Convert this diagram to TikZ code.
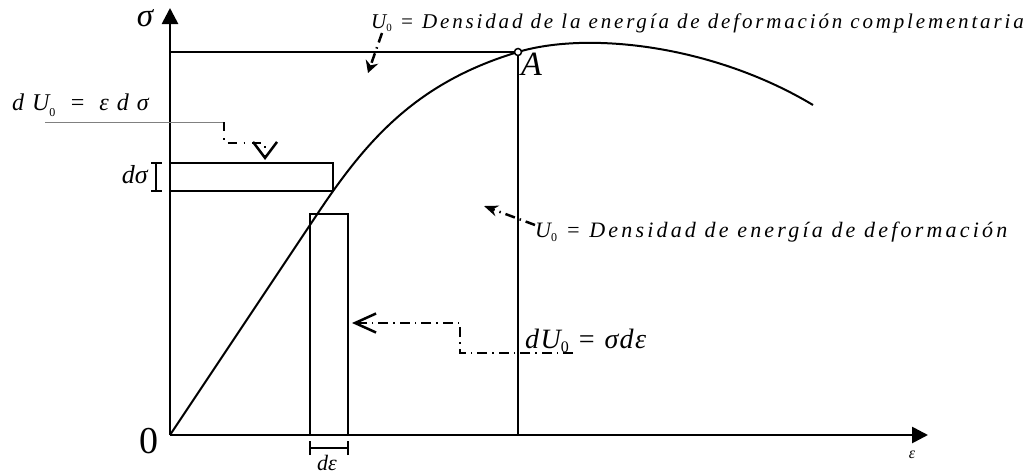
\documentclass[tikz,border=0pt]{standalone}
\usepackage{fontspec}
\setmainfont{Liberation Serif}
\newfontfamily\lsTop[LetterSpace=13.5]{Liberation Serif}
\newfontfamily\lsMid[LetterSpace=14.5]{Liberation Serif}
\newfontfamily\lsEqA[LetterSpace=33]{Liberation Serif}
\newfontfamily\lsEqB[LetterSpace=5]{Liberation Serif}
\usetikzlibrary{arrows.meta}
\newcommand{\subzero}[2]{\raisebox{-#2pt}{\fontsize{#1}{#1}\selectfont\upshape 0}}
\begin{document}
\begin{tikzpicture}[x=1pt,y=-1pt,
  axisline/.style={line width=2.7pt,-{Triangle[length=16pt,width=16pt]}},
  solidline/.style={line width=2pt},
  ddline/.style={line width=2.5pt,dash pattern=on 10pt off 5pt on 1.5pt off 5pt},
  lbl/.style={inner sep=0pt,anchor=base west},
  lblc/.style={inner sep=0pt,anchor=base}]
\useasboundingbox (0,0) rectangle (1023,474);
% coordinates
\coordinate (O) at (170,435);
\coordinate (Ytop) at (170,8);
\coordinate (Xend) at (928,435);
\coordinate (H0) at (170,52);
\coordinate (A) at (518,52);
\coordinate (Abot) at (518,435);
\coordinate (S1) at (170,163);
\coordinate (S2) at (333,191);
\coordinate (T1) at (310,214);
\coordinate (T2) at (348,435);
\coordinate (B1) at (156,163);
\coordinate (B2) at (156,191);
\coordinate (E1) at (310,448);
\coordinate (E2) at (348,448);
\coordinate (K1) at (318,213);
\coordinate (Cend) at (813,105);
% axes
\draw[axisline] (O) -- (Ytop);
\draw[axisline] (O) -- (Xend);
% lines to A
\draw[solidline] (H0) -- (A);
\draw[solidline] (A) -- (Abot);
% rectangles
\draw[solidline] (S1) rectangle (S2);
\draw[solidline] (T1) rectangle (T2);
% curve
\draw[solidline] (O) -- (K1) .. controls (368,138) and (418,82) .. (A)
  .. controls (588,31) and (713,45) .. (Cend);
% point A
\draw[line width=1.5pt,fill=white] (A) circle (3.5pt);
% brackets
\draw[solidline] (B1) -- (B2);
\draw[solidline] ([xshift=-5pt]B1) -- ([xshift=6pt]B1);
\draw[solidline] ([xshift=-5pt]B2) -- ([xshift=6pt]B2);
\draw[solidline] (E1) -- (E2);
\draw[solidline] ([yshift=-7pt]E1) -- ([yshift=7pt]E1);
\draw[solidline] ([yshift=-7pt]E2) -- ([yshift=7pt]E2);
% labels
\node[lblc,text height=15pt,text depth=1pt,font=\itshape\fontsize{33}{33}\selectfont] (sig) at (145,26) {σ};
\node[lblc,font=\fontsize{38}{38}\selectfont] (zero) at (149,453) {0};
\node[lblc,font=\itshape\fontsize{16}{16}\selectfont] (eps) at (912,458) {ε};
\node[lbl,font=\itshape\fontsize{34}{34}\selectfont] (Alab) at (521,75) {A};
\node[lblc,font=\itshape\fontsize{22}{22}\selectfont] (deps) at (327,470) {dε};
\node[inner sep=0pt,anchor=base east,font=\itshape\fontsize{26}{26}\selectfont] (dsig) at (148,183) {dσ};
\node[lbl,font=\lsTop\itshape\fontsize{21}{21}\selectfont] (topU) at (371,28) {U\subzero{11}{3} = Densidad de la energía de deformación complementaria};
\node[lbl,font=\lsMid\itshape\fontsize{22}{22}\selectfont] (midU) at (535,237) {U\subzero{12}{4} = Densidad de energía de deformación};
\node[lbl,font=\lsEqA\itshape\fontsize{24}{24}\selectfont] (eqA) at (12,110) {dU\subzero{12}{6} = εdσ};
\node[lbl,font=\lsEqB\itshape\fontsize{28}{28}\selectfont] (eqB) at (525,348) {dU\subzero{16}{4} = σdε};
% leader arrows
\coordinate (a1s) at (382,33);
\coordinate (a1e) at (368,73);
\draw[ddline,-{Stealth[length=12pt,width=13pt]}] (a1s) -- (a1e);
\coordinate (a2s) at (535,225);
\coordinate (a2e) at (484,206);
\draw[ddline,-{Stealth[length=14pt,width=11pt]}] (a2s) -- (a2e);
\coordinate (l0) at (45,122);
\coordinate (c3a) at (224,122);
\coordinate (c3b) at (224,143);
\coordinate (c3c) at (265,143);
\coordinate (c3d) at (265,160);
\draw[line width=0.8pt,gray] (l0) -- (c3a);
\draw[ddline,dash pattern=on 9pt off 7pt on 1.5pt off 7pt,-{Straight Barb[length=16pt,width=24pt]}] (c3a) -- (c3b) -- (c3c) -- (c3d);
\coordinate (c4a) at (573,353);
\coordinate (c4b) at (460,353);
\coordinate (c4c) at (460,323);
\coordinate (c4d) at (352,323);
\draw[ddline,-{Straight Barb[length=21pt,width=19pt]}] (c4a) -- (c4b) -- (c4c) -- (c4d);
\end{tikzpicture}
\end{document}
